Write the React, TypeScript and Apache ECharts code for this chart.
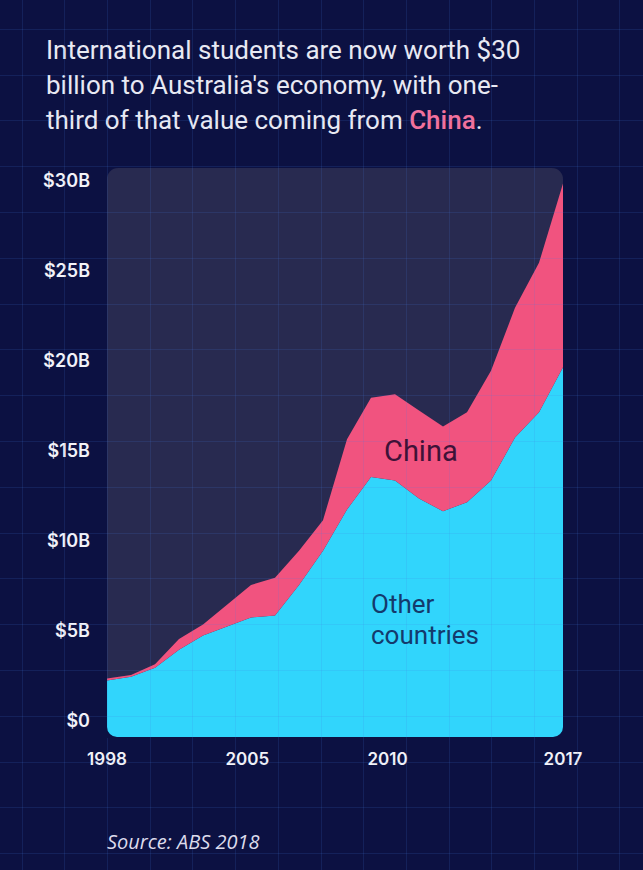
import React, { useEffect, useRef } from "react";
import * as echarts from "echarts";

const years = ["1998","1999","2000","2001","2002","2003","2004","2005","2006","2007","2008","2009","2010","2011","2012","2013","2014","2015","2016","2017"];
const otherCountries = [2.2, 2.4, 2.9, 3.9, 4.7, 5.2, 5.7, 5.8, 7.5, 9.4, 11.7, 13.5, 13.3, 12.3, 11.6, 12.1, 13.3, 15.7, 17.1, 19.6];
const china = [0.1, 0.1, 0.2, 0.6, 0.6, 1.2, 1.8, 2.1, 1.9, 1.7, 3.9, 4.4, 4.8, 4.9, 4.7, 5.0, 6.1, 7.2, 8.3, 10.2];
const yTickValues = [0, 5, 10, 15, 20, 25, 30];
const xTickLabels = ["1998", "", "", "", "2005", "", "", "", "2010", "", "", "", "", "2017"];

const BG = "#0c1142";

let registered = false;
function registerShapes() {
  if (registered) return;
  registered = true;
  echarts.graphic.registerShape(
    "cornerBL",
    echarts.graphic.extendPath("M-1 -1 L0 0 A10 10 0 0 0 10 10 L10 11 L-1 11 Z", {}) as any
  );
  echarts.graphic.registerShape(
    "cornerBR",
    echarts.graphic.extendPath("M11 -1 L11 11 L0 11 L0 10 A10 10 0 0 0 10 0 Z", {}) as any
  );
}

export default function App() {
  const ref = useRef<HTMLDivElement>(null);
  useEffect(() => {
    document.body.style.margin = "0";
    document.body.style.background = BG;
    registerShapes();
    const chart = echarts.init(ref.current!, null, { renderer: "svg" });

    const gridLines: any[] = [];
    for (let k = -2; k <= 12; k++) {
      const x = Math.round(107 + k * 42.7) + 0.5;
      gridLines.push({
        type: "line",
        z: 40,
        silent: true,
        shape: { x1: x, y1: 0, x2: x, y2: 870 },
        style: { stroke: "rgba(70,130,230,0.15)", lineWidth: 1 },
      });
    }
    for (let k = -4; k <= 14; k++) {
      const y = Math.round(212 + k * 45.8) + 0.5;
      gridLines.push({
        type: "line",
        z: 40,
        silent: true,
        shape: { x1: 0, y1: y, x2: 643, y2: y },
        style: { stroke: "rgba(70,130,230,0.15)", lineWidth: 1 },
      });
    }

    const option: any = {
      animation: false,
      backgroundColor: BG,
      title: {
        left: 41,
        top: 27,
        text:
          "International students are now worth $30\nbillion to Australia's economy, with one-\nthird of that value coming from {c|China}.",
        textStyle: {
          fontFamily: "Roboto",
          fontSize: 26,
          lineHeight: 35,
          fontWeight: "normal",
          color: "#e8e9f3",
          rich: {
            c: { fontFamily: "Roboto", fontSize: 26, lineHeight: 35, color: "#f2719d", fontWeight: 500 },
          },
        },
      },
      grid: { left: 107, right: 80, top: 168, bottom: 133, containLabel: false },
      xAxis: [
        {
          type: "category",
          data: years,
          boundaryGap: false,
          axisLine: { show: false },
          axisTick: { show: false },
          axisLabel: { show: false },
          splitLine: { show: false },
        },
        {
          type: "category",
          data: xTickLabels,
          boundaryGap: false,
          position: "bottom",
          axisLine: { show: false },
          axisTick: { show: false },
          splitLine: { show: false },
          axisLabel: {
            interval: 0,
            margin: 13,
            color: "#f2f2f8",
            fontFamily: "Inter",
            fontWeight: 600,
            fontSize: 17,
          },
        },
      ],
      yAxis: {
        type: "value",
        min: -0.944,
        max: 30.667,
        axisLine: { show: false },
        axisTick: { show: false },
        splitLine: { show: false },
        axisLabel: {
          customValues: yTickValues,
          margin: 17,
          color: "#f2f2f8",
          fontFamily: "Inter",
          fontWeight: 600,
          fontSize: 18,
          formatter: (v: number) => (v === 0 ? "$0" : "$" + v + "B"),
        },
      },
      series: [
        {
          type: "line",
          name: "Other countries",
          data: otherCountries,
          stack: "total",
          symbol: "none",
          z: 3,
          lineStyle: { width: 0, opacity: 0 },
          areaStyle: { color: "#31d5fc", opacity: 1, origin: "start" },
        },
        {
          type: "line",
          name: "China",
          data: china,
          stack: "total",
          symbol: "none",
          z: 3,
          lineStyle: { width: 0, opacity: 0 },
          areaStyle: { color: "#f1537f", opacity: 1 },
        },
      ],
      graphic: [
        {
          type: "rect",
          z: 0,
          silent: true,
          shape: { x: 107, y: 168, width: 456, height: 569, r: 11 },
          style: { fill: "#282a50" },
        },
        ...gridLines,
        { type: "cornerBL", x: 107, y: 727, z: 50, silent: true, style: { fill: BG } },
        { type: "cornerBR", x: 553, y: 727, z: 50, silent: true, style: { fill: BG } },
        {
          type: "text",
          z: 100,
          silent: true,
          style: {
            x: 384,
            y: 451,
            text: "China",
            fill: "#3e1238",
            fontFamily: "Roboto",
            fontSize: 29,
            textVerticalAlign: "middle",
            verticalAlign: "middle",
          },
        },
        {
          type: "text",
          z: 100,
          silent: true,
          style: {
            x: 371,
            y: 604,
            text: "Other",
            fill: "#143a6c",
            fontFamily: "Roboto",
            fontSize: 26,
            lineHeight: 26,
            textVerticalAlign: "middle",
            verticalAlign: "middle",
          },
        },
        {
          type: "text",
          z: 100,
          silent: true,
          style: {
            x: 371,
            y: 635,
            text: "countries",
            fill: "#143a6c",
            fontFamily: "Roboto",
            fontSize: 26,
            lineHeight: 26,
            textVerticalAlign: "middle",
            verticalAlign: "middle",
          },
        },
        {
          type: "text",
          z: 100,
          silent: true,
          style: {
            x: 107,
            y: 841,
            text: "Source: ABS 2018",
            fill: "#dcdcec",
            fontFamily: "Open Sans",
            fontStyle: "italic",
            fontSize: 20,
            textVerticalAlign: "middle",
            verticalAlign: "middle",
          },
        },
      ],
    };
    chart.setOption(option);
    return () => chart.dispose();
  }, []);
  return <div ref={ref} style={{ width: 643, height: 870 }} />;
}
